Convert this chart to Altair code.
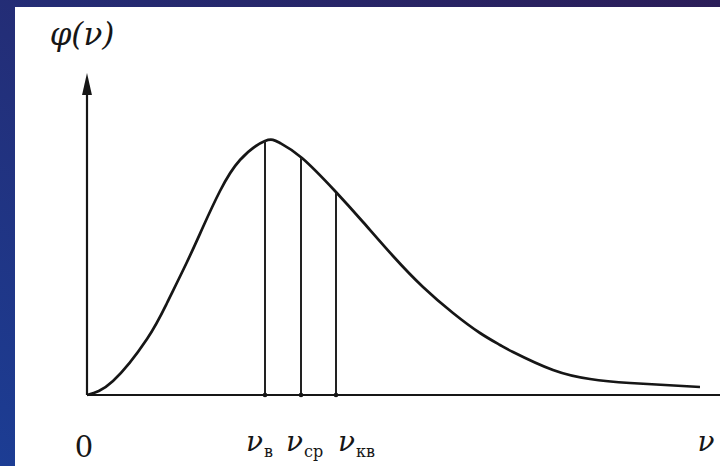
import altair as alt
import pandas as pd

# Maxwell speed distribution curve, points along the drawn profile
speed = [0, 0.26, 0.60, 0.80, 1.00, 1.16, 1.33, 1.53, 1.78, 1.93, 2.15,
         2.48, 2.76, 3.06, 3.36, 3.66, 3.93, 4.13, 4.26, 4.66, 5.03, 5.43, 6.13]
density = [0, 0.14, 0.56, 0.92, 1.33, 1.68, 2.04, 2.35, 2.54, 2.52, 2.37,
           2.04, 1.73, 1.39, 1.08, 0.82, 0.62, 0.50, 0.43, 0.25, 0.16, 0.12, 0.08]

# Characteristic speeds: most probable, mean, root-mean-square
char_names = ["в", "ср", "кв"]
char_speed = [1.78, 2.14, 2.49]
char_density = [2.54, 2.37, 2.02]
# label shifts along the speed axis, so the three labels sit side by side
nu_shift = [-0.19, -0.15, 0.02]
sub_shift = [-0.01, 0.03, 0.20]

# Axis extents
x_axis_end = 6.4
y_axis_end = 3.0

INK = "#161616"
SERIF = "DejaVu Serif"

xs = alt.Scale(domain=[-0.87, 6.33], nice=False, zero=False)
ys = alt.Scale(domain=[-0.71, 3.95], nice=False, zero=False)

curve = pd.DataFrame({"v": speed, "phi": density})
chars = pd.DataFrame({"v": char_speed, "phi": char_density, "name": char_names,
                      "zero": [0.0] * 3})
chars["v_nu"] = chars["v"] + pd.Series(nu_shift)
chars["v_sub"] = chars["v"] + pd.Series(sub_shift)
one = pd.DataFrame({"k": [0]})


def X(f):
    return alt.X(f, type="quantitative", scale=xs, axis=None)


def Y(f):
    return alt.Y(f, type="quantitative", scale=ys, axis=None)


# Slide background and the white sheet
backdrop = alt.Chart(one).mark_rect(
    color=alt.Gradient(
        gradient="linear",
        stops=[alt.GradientStop(color="#2b1d58", offset=0),
               alt.GradientStop(color="#1c3d94", offset=1)],
        x1=1, x2=0, y1=0, y2=1,
    )
).encode(x=alt.value(0), x2=alt.value(720), y=alt.value(0), y2=alt.value(466))

sheet = alt.Chart(one).mark_rect(color="white").encode(
    x=alt.value(15), x2=alt.value(720), y=alt.value(7), y2=alt.value(466)
)

axes_df = pd.DataFrame({"x0": [0, 0], "x1": [x_axis_end, 0],
                        "y0": [0, 0], "y1": [0, y_axis_end]})
axes = alt.Chart(axes_df).mark_rule(color=INK, strokeWidth=2.2).encode(
    x=X("x0"), x2="x1", y=Y("y0"), y2="y1"
)

arrow_up = alt.Chart(pd.DataFrame({"v": [0], "phi": [y_axis_end + 0.11]})).mark_point(
    shape="M0,-1L0.45,1L-0.45,1Z", size=484, filled=True, color=INK, opacity=1
).encode(x=X("v"), y=Y("phi"))

arrow_right = alt.Chart(pd.DataFrame({"v": [x_axis_end + 0.11], "phi": [0]})).mark_point(
    shape="M1,0L-1,0.45L-1,-0.45Z", size=484, filled=True, color=INK, opacity=1
).encode(x=X("v"), y=Y("phi"))

line = alt.Chart(curve).mark_line(
    color=INK, strokeWidth=2.7, interpolate="natural"
).encode(x=X("v"), y=Y("phi"))

drops = alt.Chart(chars).mark_rule(color="#222222", strokeWidth=2).encode(
    x=X("v"), y=Y("zero"), y2="phi"
)

ticks = alt.Chart(chars).mark_circle(color=INK, size=22, opacity=1).encode(
    x=X("v"), y=Y("zero")
)

# Speed labels under the axis: italic nu plus Cyrillic subscript
nu_marks = alt.Chart(chars).mark_text(
    text="ν", font=SERIF, fontStyle="italic", fontSize=28, align="left",
    baseline="alphabetic", color=INK
).encode(x=X("v_nu"), y=alt.value(451))

sub_marks = alt.Chart(chars).mark_text(
    font=SERIF, fontSize=16, align="left", baseline="alphabetic", color=INK
).encode(x=X("v_sub"), y=alt.value(457), text="name:N")

origin = alt.Chart(pd.DataFrame({"v": [0], "t": ["0"]})).mark_text(
    font=SERIF, fontSize=29, align="center", baseline="alphabetic", color=INK, dx=-3
).encode(x=X("v"), y=alt.value(457), text="t:N")

v_label = alt.Chart(pd.DataFrame({"v": [x_axis_end], "t": ["ν"]})).mark_text(
    font=SERIF, fontStyle="italic", fontSize=28, align="center",
    baseline="alphabetic", color=INK, dx=-21
).encode(x=X("v"), y=alt.value(451), text="t:N")

phi_label = alt.Chart(pd.DataFrame({"v": [0], "t": ["φ(ν)"]})).mark_text(
    font=SERIF, fontStyle="italic", fontSize=31, align="center",
    baseline="alphabetic", color=INK, dx=-5
).encode(x=X("v"), y=alt.value(45), text="t:N")

chart = alt.layer(
    backdrop, sheet, axes, arrow_up, arrow_right, line, drops, ticks,
    nu_marks, sub_marks, origin, v_label, phi_label
).properties(
    width=720, height=466, autosize=alt.AutoSizeParams(type="none"), padding=0
).configure_view(stroke=None)

chart.save("out.html", embed_options={"renderer": "svg", "actions": False})
